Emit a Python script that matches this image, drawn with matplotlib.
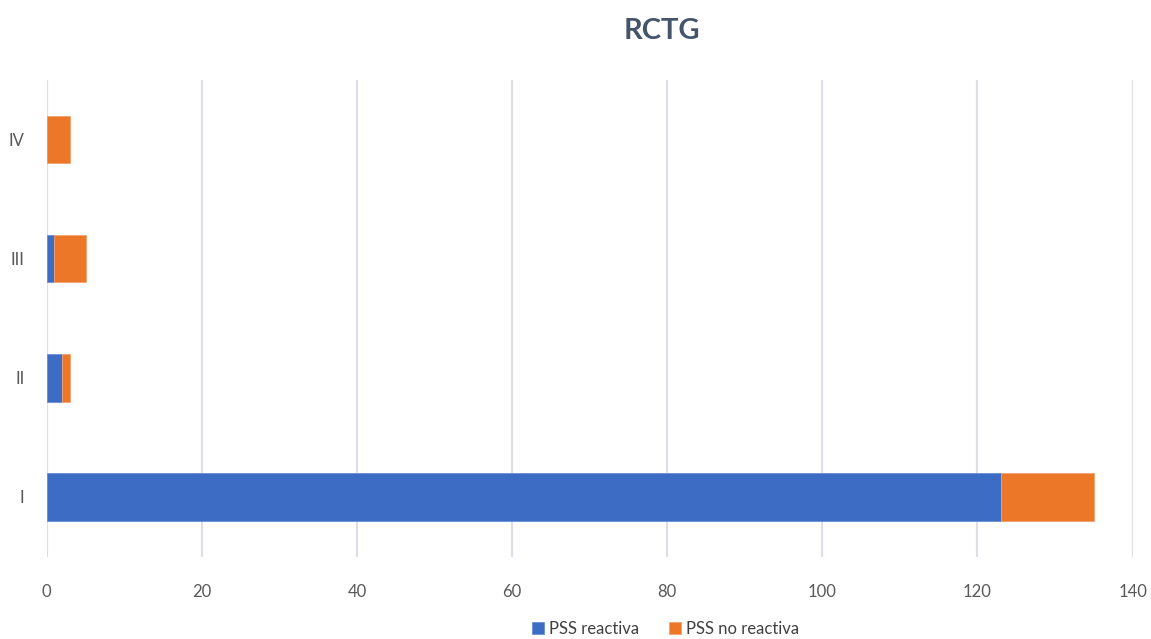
import matplotlib
matplotlib.use("AGG")
import matplotlib.pyplot as plt
import numpy as np

categories = ["I", "II", "III", "IV"]
reactiva = [123, 2, 1, 0]
no_reactiva = [12, 1, 4, 3]
xticks = [0, 20, 40, 60, 80, 100, 120, 140]

plt.rcParams['font.family'] = ['Lato', 'DejaVu Sans']

fig = plt.figure(figsize=(11.51, 6.39), dpi=100)
ax = fig.add_axes([0.0406, 0.129, 0.9434, 0.746])

y = np.arange(len(categories))
ax.barh(y, reactiva, height=0.4, color="#3D6CC4", edgecolor="#6A8FD6", linewidth=0.6,
        label="PSS reactiva", zorder=3)
ax.barh(y, no_reactiva, left=reactiva, height=0.4, color="#EC7728", edgecolor="#F2A070",
        linewidth=0.6, label="PSS no reactiva", zorder=3)

ax.set_xlim(0, 140)
ax.set_ylim(-0.5, 3.5)
ax.set_xticks(xticks)
ax.set_yticks(y)
ax.set_yticklabels(categories)
ax.grid(axis="x", color="#DCDFEA", linewidth=1.6, zorder=0)
for s in ax.spines.values():
    s.set_visible(False)
ax.tick_params(axis="both", length=0, labelsize=12, colors="#595959")
ax.tick_params(axis="x", pad=20)
ax.tick_params(axis="y", pad=16)

fig.text(0.575, 0.952, "RCTG", ha="center", va="center", fontsize=21,
         fontweight="bold", color="#44546A")

ax.legend(loc="center", bbox_to_anchor=(0.57, -0.152), ncol=2, frameon=False,
          fontsize=12, handlelength=0.7, handleheight=0.7, handletextpad=0.3,
          columnspacing=1.8, labelcolor="#404040")

plt.savefig("out.png")
